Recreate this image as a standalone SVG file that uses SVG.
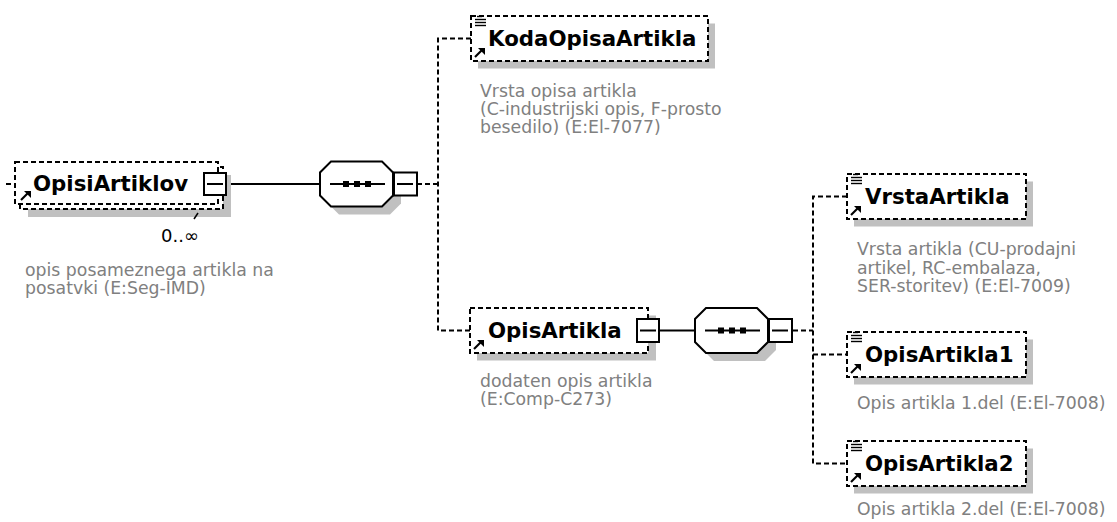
<svg xmlns="http://www.w3.org/2000/svg" xmlns:xlink="http://www.w3.org/1999/xlink" width="1117" height="522" viewBox="0 0 1117 522">
<style>
.box{fill:#fff;stroke:#000;stroke-width:2;stroke-dasharray:5 3}
.shadow{fill:#c0c0c0}
.lbl{font-family:"DejaVu Sans",Verdana,sans-serif;font-weight:bold;font-size:21.3px;fill:#000}
.desc{font-family:"DejaVu Sans",Verdana,sans-serif;font-size:17.3px;fill:#808080}
.solid{stroke:#000;stroke-width:2;fill:none}
.dash{stroke:#000;stroke-width:2;fill:none;stroke-dasharray:5 3}
.btn{fill:#fff;stroke:#000;stroke-width:2}
.ico{stroke:#000;stroke-width:1.4;fill:none}
</style>
<defs>
<g id="simple" class="ico"><line x1="5" y1="1.5" x2="10" y2="1.5"/><line x1="3" y1="4.5" x2="14" y2="4.5"/><line x1="3" y1="7.5" x2="14" y2="7.5"/><line x1="3" y1="10.5" x2="14" y2="10.5"/></g>
<g id="ref"><line x1="0" y1="9" x2="7" y2="2" stroke="#000" stroke-width="2.2"/><polygon points="3,0 10,0 10,7" fill="#000"/></g>
<polygon id="oct" points="11,0 62,0 73,11 73,34 62,45 11,45 0,34 0,11"/>
<g id="seqinner"><line x1="10" y1="22.5" x2="65" y2="22.5" stroke="#000" stroke-width="2"/><rect x="23" y="19.5" width="6" height="6"/><rect x="34" y="19.5" width="6" height="6"/><rect x="45" y="19.5" width="6" height="6"/></g>
</defs>

<g id="connectors">
<line class="dash" x1="6" y1="184" x2="15" y2="184"/>
<line class="solid" x1="226" y1="184" x2="320" y2="184"/>
<line class="dash" x1="417" y1="184" x2="438" y2="184"/>
<polyline class="dash" points="471,38.5 438,38.5 438,330.5 470,330.5"/>
<line class="solid" x1="659" y1="330.5" x2="695" y2="330.5"/>
<line class="dash" x1="793" y1="330.5" x2="813" y2="330.5"/>
<polyline class="dash" points="847,196.5 813,196.5 813,463.5 847,463.5"/>
<line class="dash" x1="813" y1="354.5" x2="847" y2="354.5"/>
</g>

<g id="OpisiArtiklov">
<rect class="shadow" x="28" y="175" width="203" height="42"/>
<rect class="box" x="20" y="167" width="203" height="42"/>
<rect class="box" x="15" y="162" width="203" height="42"/>
<text class="lbl" x="33" y="191">OpisiArtiklov</text>
<use xlink:href="#ref" x="21" y="191"/>
<rect class="btn" x="204" y="173" width="22" height="22"/>
<line class="solid" x1="207" y1="184" x2="223" y2="184"/>
<line x1="198" y1="213" x2="194" y2="219" stroke="#000" stroke-width="1.5"/>
<text class="desc" x="161" y="242" style="fill:#000;font-size:18px">0..∞</text>
<text class="desc" x="25" y="276">opis posameznega artikla na</text>
<text class="desc" x="25" y="294">posatvki (E:Seg-IMD)</text>
</g>

<g id="seq1" transform="translate(320,161.5)">
<use xlink:href="#oct" class="shadow" x="8" y="8"/>
<use xlink:href="#oct" fill="#fff" stroke="#000" stroke-width="2"/>
<use xlink:href="#seqinner"/>
<rect class="btn" x="74" y="11" width="23" height="23"/>
<line class="solid" x1="77" y1="22.5" x2="93" y2="22.5"/>
</g>

<g id="KodaOpisaArtikla">
<rect class="shadow" x="478" y="23.5" width="237" height="45"/>
<rect class="box" x="471" y="16" width="237" height="45"/>
<use xlink:href="#simple" x="472" y="15"/>
<use xlink:href="#ref" x="475" y="48"/>
<text class="lbl" x="488" y="46">KodaOpisaArtikla</text>
<text class="desc" x="480" y="97">Vrsta opisa artikla</text>
<text class="desc" x="480" y="115">(C-industrijski opis, F-prosto</text>
<text class="desc" x="480" y="133">besedilo) (E:El-7077)</text>
</g>

<g id="OpisArtikla">
<rect class="shadow" x="477" y="315.5" width="179" height="45"/>
<rect class="box" x="470" y="308" width="178" height="45"/>
<use xlink:href="#ref" x="474" y="340"/>
<text class="lbl" x="488" y="338">OpisArtikla</text>
<rect class="btn" x="637" y="319" width="22" height="23"/>
<line class="solid" x1="640" y1="330.5" x2="656" y2="330.5"/>
<text class="desc" x="480" y="387">dodaten opis artikla</text>
<text class="desc" x="480" y="405">(E:Comp-C273)</text>
</g>

<g id="seq2" transform="translate(695,308)">
<use xlink:href="#oct" class="shadow" x="8" y="8"/>
<use xlink:href="#oct" fill="#fff" stroke="#000" stroke-width="2"/>
<use xlink:href="#seqinner"/>
<rect class="btn" x="74" y="11" width="23" height="23"/>
<line class="solid" x1="77" y1="22.5" x2="93" y2="22.5"/>
</g>

<g id="VrstaArtikla">
<rect class="shadow" x="854" y="181.5" width="179" height="45"/>
<rect class="box" x="847" y="174" width="179" height="45"/>
<use xlink:href="#simple" x="848" y="173"/>
<use xlink:href="#ref" x="851" y="206"/>
<text class="lbl" x="865" y="204">VrstaArtikla</text>
<text class="desc" x="857" y="255">Vrsta artikla (CU-prodajni</text>
<text class="desc" x="857" y="273.5">artikel, RC-embalaza,</text>
<text class="desc" x="857" y="292">SER-storitev) (E:El-7009)</text>
</g>

<g id="OpisArtikla1">
<rect class="shadow" x="854" y="339.5" width="179" height="45"/>
<rect class="box" x="847" y="332" width="179" height="45"/>
<use xlink:href="#simple" x="848" y="331"/>
<use xlink:href="#ref" x="851" y="364"/>
<text class="lbl" x="865" y="362">OpisArtikla1</text>
<text class="desc" x="857" y="409">Opis artikla 1.del (E:El-7008)</text>
</g>

<g id="OpisArtikla2">
<rect class="shadow" x="854" y="448.5" width="179" height="45"/>
<rect class="box" x="847" y="441" width="179" height="45"/>
<use xlink:href="#simple" x="848" y="440"/>
<use xlink:href="#ref" x="851" y="473"/>
<text class="lbl" x="865" y="471">OpisArtikla2</text>
<text class="desc" x="857" y="515">Opis artikla 2.del (E:El-7008)</text>
</g>
</svg>
